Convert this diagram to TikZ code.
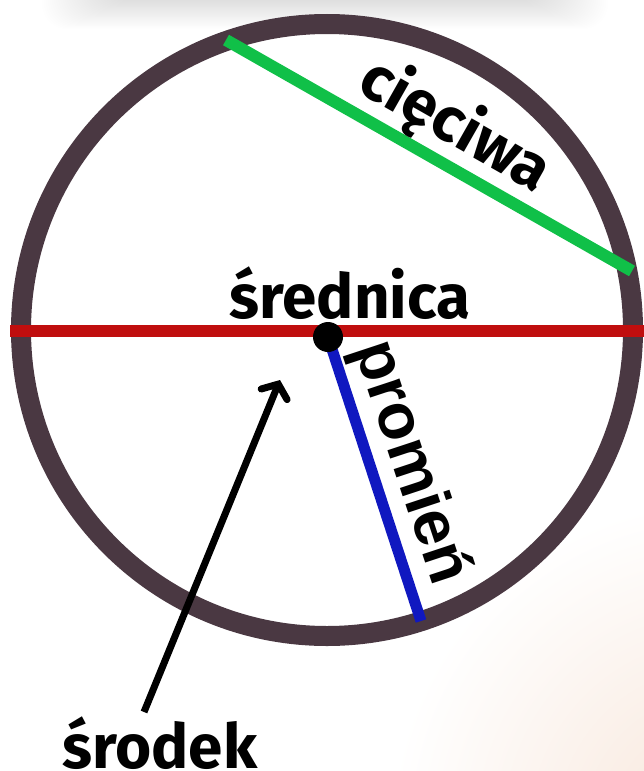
\documentclass[tikz,border=0pt]{standalone}
\usepackage{fontspec}
\setmainfont{Fira Sans}
\newfontfamily\promfont{Liberation Sans}
\usetikzlibrary{arrows.meta}
\definecolor{ringcol}{RGB}{74,56,66}
\definecolor{redcol}{RGB}{192,14,14}
\definecolor{greencol}{RGB}{16,192,72}
\definecolor{bluecol}{RGB}{16,24,192}
\definecolor{peach}{RGB}{247,230,218}
\tikzset{
  lbl/.style={font=\bfseries\fontsize{62}{62}\selectfont, anchor=base, inner sep=0pt},
  segline/.style={line width=12pt, line cap=butt},
}
\begin{document}
\begin{tikzpicture}[x=1pt,y=-1pt]
\useasboundingbox (0,0) rectangle (644,771);
\begin{scope}
  \clip (0,0) rectangle (644,771);
  \shade[inner color=peach, outer color=white] (720,830) circle (330pt);
  \foreach \k in {0,...,39}{
    \fill[black,opacity=0.0055,rounded corners=25pt] (120-2*\k,-60) rectangle (530+2*\k,-6+0.9*\k);
  }
\end{scope}
% circle
\coordinate (C) at (327,330);
\draw[ringcol, line width=20pt] (C) circle (306pt);
% diameter
\coordinate (L) at (10,331);
\coordinate (R) at (644,331);
\draw[redcol, segline] (L) -- (R);
% chord
\coordinate (G1) at (226,40);
\coordinate (G2) at (632,271);
\draw[greencol, segline] (G1) -- (G2);
% radius
\coordinate (O) at (328,337);
\coordinate (B) at (421,621);
\draw[bluecol, line width=11pt] (O) -- (B);
\node[circle, fill=black, minimum size=30pt, inner sep=0pt] (dot) at (O) {};
% arrow
\coordinate (A1) at (144,712);
\coordinate (A2) at (280,380);
\draw[line width=7pt, -{Straight Barb[length=11pt,width=28pt,line cap=round]}] (A1) -- (A2);
% labels
\node[lbl] (srednica) at (350,318) {średnica};
\node[lbl] (srodek) at (160,768) {środek};
\node[lbl, rotate=-29.6] (cieciwa) at (446,142) {cięciwa};
\node[lbl, font=\promfont\bfseries\fontsize{64}{64}\selectfont, rotate=-71.7] (promien) at (394,468) {promień};
\end{tikzpicture}
\end{document}
